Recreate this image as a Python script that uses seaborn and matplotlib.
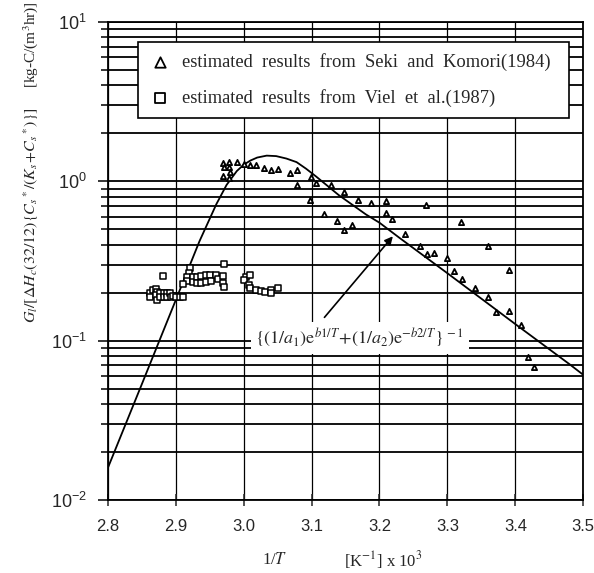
import numpy as np
import pandas as pd
import matplotlib
matplotlib.use("Agg")
import matplotlib.pyplot as plt
import seaborn as sns
from matplotlib.ticker import LogLocator, FixedLocator, NullFormatter

# ---------------- data ----------------
# Seki and Komori (1984) -- triangles
tri_x = [2.970, 2.979, 2.990, 2.971, 2.979, 2.980, 2.969, 2.979,
         3.001, 3.009, 3.019, 3.030, 3.040, 3.050, 3.069, 3.079, 3.079,
         3.099, 3.107, 3.098, 3.128, 3.148, 3.168, 3.188, 3.209, 3.209,
         3.218, 3.118, 3.137, 3.148, 3.159, 3.269, 3.320, 3.238, 3.259,
         3.359, 3.270, 3.280, 3.300, 3.310, 3.321, 3.390, 3.340, 3.359,
         3.371, 3.390, 3.409, 3.419, 3.428]
tri_y = [1.30, 1.32, 1.32, 1.23, 1.23, 1.14, 1.075, 1.055,
         1.28, 1.27, 1.26, 1.21, 1.17, 1.20, 1.127, 1.17, 0.953,
         1.064, 0.98, 0.768, 0.953, 0.857, 0.768, 0.731, 0.749, 0.633,
         0.578, 0.627, 0.561, 0.498, 0.535, 0.714, 0.556, 0.465, 0.391,
         0.393, 0.352, 0.355, 0.332, 0.273, 0.245, 0.277, 0.213, 0.187,
         0.152, 0.154, 0.126, 0.0785, 0.0686]

# Viel et al. (1987) -- squares
sq_x = [2.862, 2.862, 2.867, 2.871, 2.872, 2.871, 2.872, 2.877, 2.877,
        2.883, 2.883, 2.888, 2.888, 2.892, 2.893, 2.896, 2.901, 2.906,
        2.911, 2.882,
        2.921, 2.920, 2.916, 2.916, 2.911, 2.926, 2.926, 2.932, 2.932,
        2.938, 2.938, 2.944, 2.945, 2.951, 2.952, 2.960, 2.963, 2.969,
        2.970, 2.971, 2.971,
        3.003, 3.000, 3.010, 3.008, 3.010, 3.018, 3.025, 3.031, 3.041,
        3.041, 3.051]
sq_y = [0.198, 0.188, 0.207, 0.212, 0.202, 0.193, 0.181, 0.198, 0.188,
        0.1995, 0.188, 0.198, 0.188, 0.1995, 0.188, 0.190, 0.187, 0.187,
        0.187, 0.255,
        0.284, 0.266, 0.251, 0.237, 0.226, 0.251, 0.234, 0.251, 0.230,
        0.254, 0.230, 0.257, 0.234, 0.257, 0.237, 0.257, 0.245, 0.254,
        0.230, 0.217, 0.302,
        0.251, 0.239, 0.260, 0.225, 0.214, 0.207, 0.204, 0.202, 0.207,
        0.198, 0.214]

# model curve, points
curve_x = [2.80, 2.85, 2.90, 2.935, 2.96, 2.975, 2.99, 3.00, 3.01, 3.02,
           3.034, 3.048, 3.063, 3.078, 3.092, 3.107, 3.14, 3.18, 3.20,
           3.23, 3.30, 3.40, 3.48, 3.50]
curve_y = [0.0158, 0.053, 0.179, 0.42, 0.72, 0.95, 1.16, 1.27, 1.35, 1.41,
           1.45, 1.44, 1.39, 1.32, 1.20, 1.07, 0.82, 0.62, 0.55,
           0.44, 0.265, 0.127, 0.071, 0.061]

x_ticks = [2.8, 2.9, 3.0, 3.1, 3.2, 3.3, 3.4, 3.5]
x_ticklabels = ["2.8", "2.9", "3.0", "3.1", "3.2", "3.3", "3.4", "3.5"]

legend_labels = ["estimated  results  from  Seki  and  Komori(1984)",
                 "estimated  results  from  Viel  et  al.(1987)"]
curve_label = r"$\{(1/a_1)\mathrm{e}^{b1/T}\!+\!(1/a_2)\mathrm{e}^{-b2/T}\}^{\,-1}$"

tri = pd.DataFrame({"x": tri_x, "y": tri_y})
sq = pd.DataFrame({"x": sq_x, "y": sq_y})
cur = pd.DataFrame({"x": curve_x, "y": curve_y})

# ---------------- style ----------------
sns.set_style("ticks")
plt.rcParams["font.family"] = ["Liberation Serif", "DejaVu Serif"]
plt.rcParams["mathtext.fontset"] = "stix"

fig = plt.figure(figsize=(5.94, 5.73), dpi=100)
ax = fig.add_axes([0.1813, 0.1274, 0.8007, 0.8342])

sns.lineplot(data=cur, x="x", y="y", color="black", lw=1.3, ax=ax,
             legend=False, zorder=3)
sns.scatterplot(data=tri, x="x", y="y", marker="^", s=14, color="white",
                edgecolor="black", linewidth=1.3, ax=ax,
                label=legend_labels[0], zorder=4)
sns.scatterplot(data=sq, x="x", y="y", marker="s", s=15, color="white",
                edgecolor="black", linewidth=1.1, ax=ax,
                label=legend_labels[1], zorder=4)

ax.set_yscale("log")
ax.set_xlim(2.8, 3.5)
ax.set_ylim(1e-2, 1e1)
ax.set_xlabel("")
ax.set_ylabel("")

ax.xaxis.set_major_locator(FixedLocator(x_ticks))
ax.set_xticklabels(x_ticklabels)
ax.yaxis.set_major_locator(LogLocator(base=10, numticks=10))
ax.yaxis.set_minor_locator(LogLocator(base=10, subs=np.arange(2, 10), numticks=20))
ax.yaxis.set_minor_formatter(NullFormatter())

ax.set_axisbelow(True)
ax.grid(which="both", axis="y", color="black", lw=1.3)
ax.grid(which="major", axis="x", color="black", lw=0.9)

for s in ax.spines.values():
    s.set_linewidth(1.3)
    s.set_color("black")

tick_font = ["Liberation Sans", "DejaVu Sans"]
ax.tick_params(axis="x", which="major", direction="inout", length=8,
               width=1.1, pad=10, labelsize=12)
ax.tick_params(axis="y", which="major", direction="out", length=7,
               width=1.3, pad=8, labelsize=13)
ax.tick_params(axis="y", which="minor", direction="out", length=5,
               width=1.3)
for lab in ax.get_xticklabels() + ax.get_yticklabels():
    lab.set_family(tick_font)

leg = ax.legend(loc="lower left", bbox_to_anchor=(0.0636, 0.799, 0.907, 0.153),
                mode="expand", frameon=True, fancybox=False, framealpha=1,
                edgecolor="black", fontsize=13.3, labelspacing=1.0,
                borderpad=0.6, handletextpad=0.6, handlelength=1.2,
                markerscale=2.0, borderaxespad=0)
leg.get_frame().set_linewidth(1.2)
for h in leg.legend_handles:
    h.set_linewidth(1.3)

# formula with arrow
ax.text(3.171, 0.1037, curve_label, ha="center", va="center", fontsize=13,
        bbox=dict(boxstyle="square,pad=0.25", fc="white", ec="none"), zorder=5)
ax.annotate("", xy=(3.2197, 0.452), xytext=(3.119, 0.140),
            arrowprops=dict(arrowstyle="-|>", color="black", lw=1.2,
                            mutation_scale=12, shrinkA=0, shrinkB=0), zorder=5)

# axis titles
fig.text(0.052, 0.625,
         r"$G_l/[\Delta H_c(32/12)\{C_s{}^*/(K_s\!+\!C_s{}^*)\}]$",
         rotation=90, ha="center", va="center", fontsize=11.5)
fig.text(0.052, 0.922, r"[kg-C/(m$^3$hr)]", rotation=90, ha="center",
         va="center", fontsize=11)
fig.text(0.463, 0.022, r"1/$T$", ha="center", va="center", fontsize=12)
fig.text(0.646, 0.022, r"[K$^{-1}$] x 10$^3$", ha="center", va="center",
         fontsize=12)

fig.savefig("out.png", dpi=100)
